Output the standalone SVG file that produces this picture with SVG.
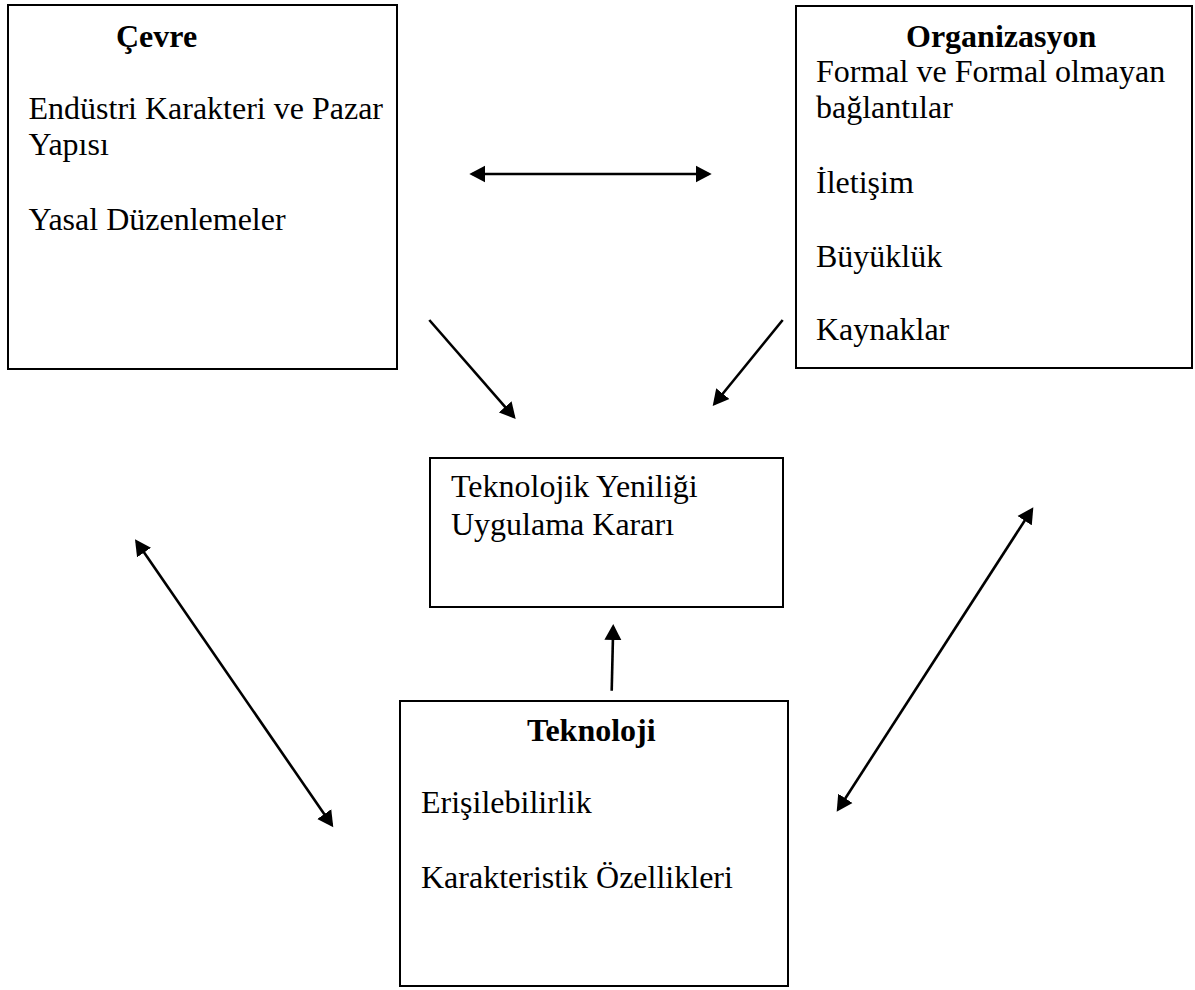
<svg xmlns="http://www.w3.org/2000/svg" width="1195" height="990" viewBox="0 0 1195 990">
  <style>
    .box { fill: #ffffff; stroke: #000000; stroke-width: 2; }
    .t { font-family: "Liberation Serif", "Times New Roman", serif; font-size: 32px; fill: #000000; }
    .h { font-weight: bold; }
    .link { stroke: #000000; stroke-width: 2.6; fill: none; }
  </style>
  <defs>
    <marker id="head" markerUnits="userSpaceOnUse" markerWidth="18" markerHeight="18" viewBox="0 0 18 18" refX="13" refY="9" orient="auto-start-reverse">
      <path d="M0,0.5 L16,9 L0,17.5 z" fill="#000000"/>
    </marker>
  </defs>
  <rect width="1195" height="990" fill="#ffffff"/>

  <g id="cevre">
    <rect class="box" x="8" y="5" width="389" height="364"/>
    <text class="t h" x="116" y="47">Çevre</text>
    <text class="t" x="28.5" y="119">Endüstri Karakteri ve Pazar</text>
    <text class="t" x="28.5" y="155">Yapısı</text>
    <text class="t" x="28.5" y="230">Yasal Düzenlemeler</text>
  </g>

  <g id="organizasyon">
    <rect class="box" x="796" y="6" width="396" height="362"/>
    <text class="t h" x="906" y="47">Organizasyon</text>
    <text class="t" x="816" y="82">Formal ve Formal olmayan</text>
    <text class="t" x="816" y="118">bağlantılar</text>
    <text class="t" x="816" y="193">İletişim</text>
    <text class="t" x="816" y="267">Büyüklük</text>
    <text class="t" x="816" y="340">Kaynaklar</text>
  </g>

  <g id="karar">
    <rect class="box" x="430" y="458" width="353" height="149"/>
    <text class="t" x="451" y="497">Teknolojik Yeniliği</text>
    <text class="t" x="451" y="535">Uygulama Kararı</text>
  </g>

  <g id="teknoloji">
    <rect class="box" x="400" y="701" width="388" height="285"/>
    <text class="t h" x="527" y="741">Teknoloji</text>
    <text class="t" x="421" y="813">Erişilebilirlik</text>
    <text class="t" x="421" y="888">Karakteristik Özellikleri</text>
  </g>

  <g id="connectors">
    <line class="link" x1="472.3" y1="174" x2="708.7" y2="174" marker-start="url(#head)" marker-end="url(#head)"/>
    <line class="link" x1="429.3" y1="320" x2="513.7" y2="416.7" marker-end="url(#head)"/>
    <line class="link" x1="782.7" y1="320" x2="714.6" y2="403.7" marker-end="url(#head)"/>
    <line class="link" x1="611.7" y1="690.7" x2="613.2" y2="627" marker-end="url(#head)"/>
    <line class="link" x1="136.7" y1="541.8" x2="331.6" y2="824.8" marker-start="url(#head)" marker-end="url(#head)"/>
    <line class="link" x1="1031.7" y1="509.8" x2="838.3" y2="809.2" marker-start="url(#head)" marker-end="url(#head)"/>
  </g>
</svg>
